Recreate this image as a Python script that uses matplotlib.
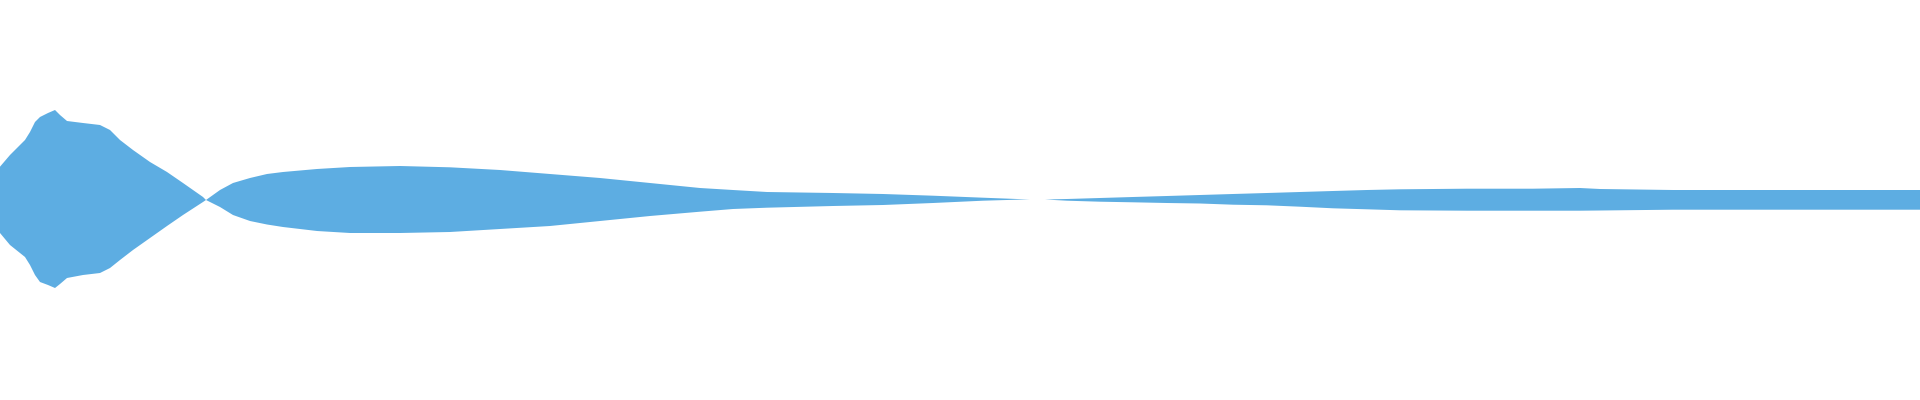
import numpy as np
import matplotlib
matplotlib.use("Agg")
import matplotlib.pyplot as plt

# sample position along the track (pixel-ish units) and envelope edges
t = [0, 10, 25, 30, 35, 40, 48, 55, 60, 67, 83, 100, 110, 120, 133, 150, 167, 183,
     203, 206, 220, 233, 250, 267, 283, 317, 350, 400, 450, 500, 550, 600, 650, 700,
     733, 767, 833, 883, 933, 983, 1017, 1030, 1045, 1067, 1100, 1133, 1167, 1200,
     1233, 1267, 1300, 1333, 1367, 1400, 1467, 1533, 1580, 1600, 1673, 1920]

upper = [33.3, 45, 60, 68, 78, 83, 87, 90, 85, 79, 77, 75, 70, 60, 50, 38, 28, 17,
         3, 0, 10, 17, 22, 26, 28, 31, 33, 34, 32.7, 30, 26, 22, 17, 12,
         10, 8, 7, 6, 4.3, 2.3, 1, 0.5, 0.5, 1, 2, 3, 4, 5,
         6, 7, 8, 9, 10, 10.7, 11.3, 11.3, 12, 11, 10, 10]

lower = [-33, -45, -57, -65, -75, -82, -85, -88, -84, -78, -75, -73, -68, -60, -50, -38, -26, -15,
         -2, 0, -7, -15, -21, -24.5, -27, -31, -33, -33, -32, -29, -26, -21, -16, -11.7,
         -9, -7.7, -6, -5, -3, -0.7, 0.3, 0.5, 0.5, -0.7, -1.7, -2.3, -3, -3.5,
         -4.7, -5.3, -6.7, -8.3, -9.3, -10.3, -10.7, -10.7, -10.7, -10.5, -9.7, -9.7]

fig = plt.figure(figsize=(19.2, 4), dpi=100)
ax = fig.add_axes([0, 0, 1, 1])

ax.fill_between(t, lower, upper, color='#5DADE2', linewidth=0)

ax.set_xlim(0, 1920)
ax.set_ylim(-200, 200)
ax.axis('off')

fig.savefig('out.png', dpi=100, facecolor='white')
